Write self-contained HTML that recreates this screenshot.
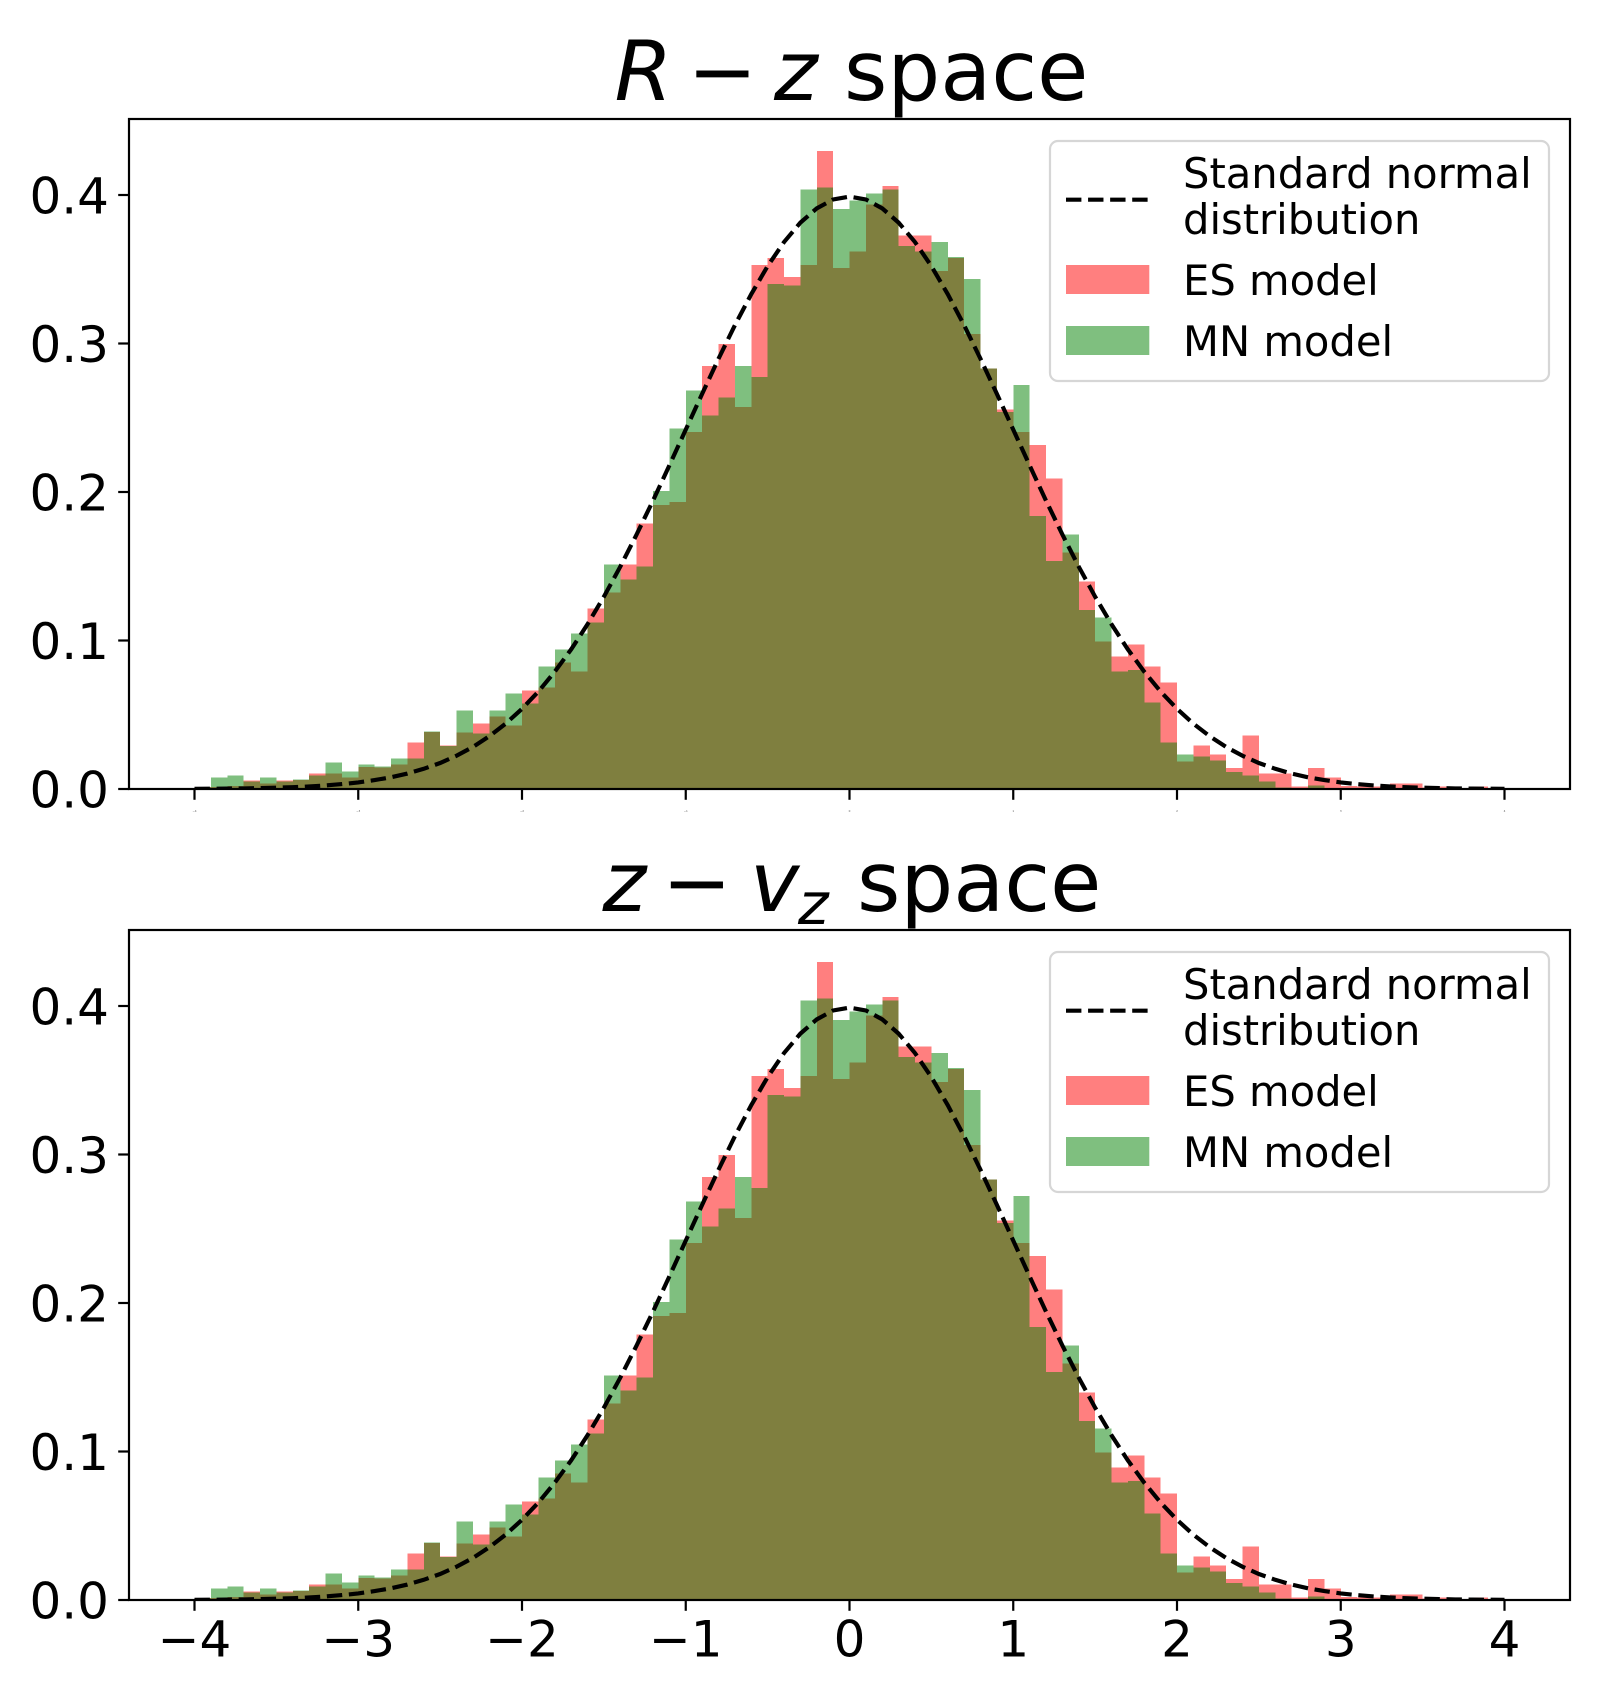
<!DOCTYPE html>
<html lang="en">
<head>
<meta charset="utf-8">
<title>R-z and z-vz space histograms</title>
<style>
  html, body { margin: 0; padding: 0; background: #fff; }
  svg { display: block; }
  text { font-family: "DejaVu Sans", "Liberation Sans", sans-serif; fill: #000; }
  .title { font-size: 83.3px; }
  .math { font-style: italic; }
  .tick-label { font-size: 50px; }
  .tiny-label { font-size: 2.8px; fill: #555; }
  .legend-text { font-size: 41.67px; }
</style>
</head>
<body>
<svg id="figure" xmlns="http://www.w3.org/2000/svg" width="1600" height="1700" viewBox="0 0 1600 1700">
  <rect x="0" y="0" width="1600" height="1700" fill="#fff"/>
  <defs>
    <clipPath id="plot-clip"><rect x="129" y="119" width="1441" height="670"/></clipPath>
  </defs>

  <g id="panel-top"></g>
  <g id="panel-bottom" transform="translate(0,811)"></g>

  <g>
    <text class="title math" x="614.5" y="100">R</text>
    <text class="title" x="687.5" y="100">−</text>
    <text class="title math" x="774" y="100">z</text>
    <text class="title" x="844" y="100">space</text>
  </g>
  <g>
    <text class="title math" x="602.5" y="911">z</text>
    <text class="title" x="662" y="911">−</text>
    <text class="title math" x="750" y="911">v</text>
    <text class="math" style="font-size:58.3px" x="798" y="924">z</text>
    <text class="title" x="857" y="911">space</text>
  </g>
</svg>

<script>
const binEdgesStart = -4;
const binWidth = 0.1;
const esDensity = [
  0.0013,0.0015,0.002,0.0058,0.0038,0.0058,0.006,0.0105,0.0105,0.0078,
  0.0148,0.0146,0.0166,0.0314,0.0384,0.0294,0.0382,0.0442,0.0489,0.0427,
  0.0663,0.0684,0.0852,0.0791,0.1215,0.1324,0.1512,0.1788,0.1914,0.1934,
  0.2405,0.285,0.2998,0.2574,0.353,0.3577,0.3449,0.353,0.4295,0.351,
  0.3618,0.3935,0.4062,0.3726,0.3726,0.3489,0.3577,0.3065,0.283,0.2554,
  0.2405,0.2318,0.209,0.1591,0.1396,0.0992,0.0891,0.0972,0.0824,0.0716,
  0.0184,0.0292,0.0232,0.0143,0.0359,0.0103,0.0103,0.0016,0.0143,0.0076,
  0.002,0.0016,0.0016,0.0036,0.0036,0.0009,0.0016,0.0005,0.0016,0
];
const mnDensity = [
  0.0013,0.0078,0.0092,0.005,0.0078,0.005,0.0065,0.0092,0.0179,0.0119,
  0.0166,0.0152,0.0207,0.0207,0.0388,0.0288,0.0529,0.0375,0.0529,0.0643,
  0.0576,0.0825,0.094,0.1047,0.1121,0.1512,0.1411,0.1498,0.2008,0.2426,
  0.2682,0.2514,0.2635,0.285,0.2776,0.3402,0.3389,0.4036,0.4049,0.3907,
  0.3962,0.4009,0.4036,0.3658,0.3618,0.3685,0.3584,0.3436,0.283,0.254,
  0.2722,0.184,0.1536,0.1713,0.1207,0.1154,0.079,0.0803,0.0582,0.0312,
  0.0232,0.0218,0.0191,0.0116,0.009,0.0049,0.0009,0,0.0022,0,
  0,0,0,0,0,0,0,0,0,0
];
const normalX = [
  -4,-3.9,-3.8,-3.7,-3.6,-3.5,-3.4,-3.3,-3.2,-3.1,-3,-2.9,-2.8,-2.7,-2.6,-2.5,-2.4,-2.3,-2.2,-2.1,
  -2,-1.9,-1.8,-1.7,-1.6,-1.5,-1.4,-1.3,-1.2,-1.1,-1,-0.9,-0.8,-0.7,-0.6,-0.5,-0.4,-0.3,-0.2,-0.1,
  0,0.1,0.2,0.3,0.4,0.5,0.6,0.7,0.8,0.9,1,1.1,1.2,1.3,1.4,1.5,1.6,1.7,1.8,1.9,
  2,2.1,2.2,2.3,2.4,2.5,2.6,2.7,2.8,2.9,3,3.1,3.2,3.3,3.4,3.5,3.6,3.7,3.8,3.9,4
];
const normalY = [
  0.0001,0.0002,0.0003,0.0004,0.0006,0.0009,0.0012,0.0017,0.0024,0.0033,0.0044,0.006,0.0079,0.0104,0.0136,0.0175,0.0224,0.0283,0.0355,0.044,
  0.054,0.0656,0.079,0.094,0.1109,0.1295,0.1497,0.1714,0.1942,0.2179,0.242,0.2661,0.2897,0.3123,0.3332,0.3521,0.3683,0.3814,0.391,0.397,
  0.3989,0.397,0.391,0.3814,0.3683,0.3521,0.3332,0.3123,0.2897,0.2661,0.242,0.2179,0.1942,0.1714,0.1497,0.1295,0.1109,0.094,0.079,0.0656,
  0.054,0.044,0.0355,0.0283,0.0224,0.0175,0.0136,0.0104,0.0079,0.006,0.0044,0.0033,0.0024,0.0017,0.0012,0.0009,0.0006,0.0004,0.0003,0.0002,0.0001
];
const xTicks = [-4,-3,-2,-1,0,1,2,3,4];
const xTickLabels = ['−4','−3','−2','−1','0','1','2','3','4'];
const yTicks = [0,0.1,0.2,0.3,0.4];
const yTickLabels = ['0.0','0.1','0.2','0.3','0.4'];

const NS = 'http://www.w3.org/2000/svg';
const xScale = v => 849.5 + 163.75 * v;
const yScale = v => 789 - 1485 * v;

function make(tag, attrs, parent, content) {
  const el = document.createElementNS(NS, tag);
  for (const k in attrs) el.setAttribute(k, attrs[k]);
  if (content !== undefined) el.textContent = content;
  parent.appendChild(el);
  return el;
}

function drawBars(parent, values, color, seriesName) {
  const g = make('g', {'clip-path': 'url(#plot-clip)'}, parent);
  
  
  values.forEach((v, i) => {
    const left = binEdgesStart + i * binWidth;
    const x0 = xScale(left);
    const x1 = xScale(left + binWidth);
    const bar = make('rect', {
      x: x0, y: yScale(v), width: x1 - x0, height: yScale(0) - yScale(v),
      fill: color, 'fill-opacity': 0.5, 'shape-rendering': 'crispEdges'
    }, g);
    
    
  });
}

function drawCurve(parent) {
  const pts = normalX.map((x, i) => xScale(x) + ',' + yScale(normalY[i])).join(' ');
  const line = make('polyline', {
    points: pts, fill: 'none', stroke: '#000', 'stroke-width': 4.17,
    'stroke-dasharray': '15.4 6.67', 'clip-path': 'url(#plot-clip)'
  }, parent);
  
  
}

function drawAxes(parent, showXLabels) {
  const frame = make('rect', {x: 129, y: 119, width: 1441, height: 670, fill: 'none', stroke: '#000', 'stroke-width': 2.2}, parent);
  
  

  xTicks.forEach((t, i) => {
    const x = xScale(t);
    const tick = make('line', {x1: x, x2: x, y1: 789, y2: 799.8, stroke: '#000', 'stroke-width': 2.2}, parent);
    
    
    const label = make('text', showXLabels
      ? {x: x, y: 845.5, 'text-anchor': 'middle', class: 'tick-label'}
      : {x: x, y: 812, 'text-anchor': 'middle', class: 'tiny-label'}, parent, xTickLabels[i]);
    
    
  });

  yTicks.forEach((t, i) => {
    const y = yScale(t);
    const tick = make('line', {x1: 118.2, x2: 129, y1: y, y2: y, stroke: '#000', 'stroke-width': 2.2}, parent);
    
    
    const label = make('text', {x: 109, y: y + 18.5, 'text-anchor': 'end', class: 'tick-label'}, parent, yTickLabels[i]);
    
    
  });
}

function drawLegend(parent) {
  const g = make('g', {}, parent);
  
  
  const box = make('rect', {x: 1050, y: 141, width: 499, height: 240, rx: 8, ry: 8, fill: '#fff', 'fill-opacity': 0.8, stroke: '#ccc', 'stroke-opacity': 0.8, 'stroke-width': 2.2}, g);
  
  

  const swatchLine = make('line', {x1: 1066, x2: 1149.3, y1: 199.7, y2: 199.7, stroke: '#000', 'stroke-width': 4.17, 'stroke-dasharray': '15.4 6.67'}, g);
  
  
  const t1 = make('text', {x: 1183, y: 188, class: 'legend-text'}, g, 'Standard normal');
  
  
  const t2 = make('text', {x: 1183, y: 234, class: 'legend-text'}, g, 'distribution');
  
  

  const esSwatch = make('rect', {x: 1066, y: 265, width: 83.3, height: 29, fill: '#ff0000', 'fill-opacity': 0.5}, g);
  
  
  const t3 = make('text', {x: 1183, y: 295, class: 'legend-text'}, g, 'ES model');
  
  

  const mnSwatch = make('rect', {x: 1066, y: 326, width: 83.3, height: 29, fill: '#008000', 'fill-opacity': 0.5}, g);
  
  
  const t4 = make('text', {x: 1183, y: 356, class: 'legend-text'}, g, 'MN model');
  
  
}

function drawPanel(panel, showXLabels) {
  drawBars(panel, esDensity, '#ff0000', 'es-model');
  drawBars(panel, mnDensity, '#008000', 'mn-model');
  drawCurve(panel);
  drawAxes(panel, showXLabels);
  drawLegend(panel);
}

drawPanel(document.getElementById('panel-top'), false);
drawPanel(document.getElementById('panel-bottom'), true);
</script>
</body>
</html>
